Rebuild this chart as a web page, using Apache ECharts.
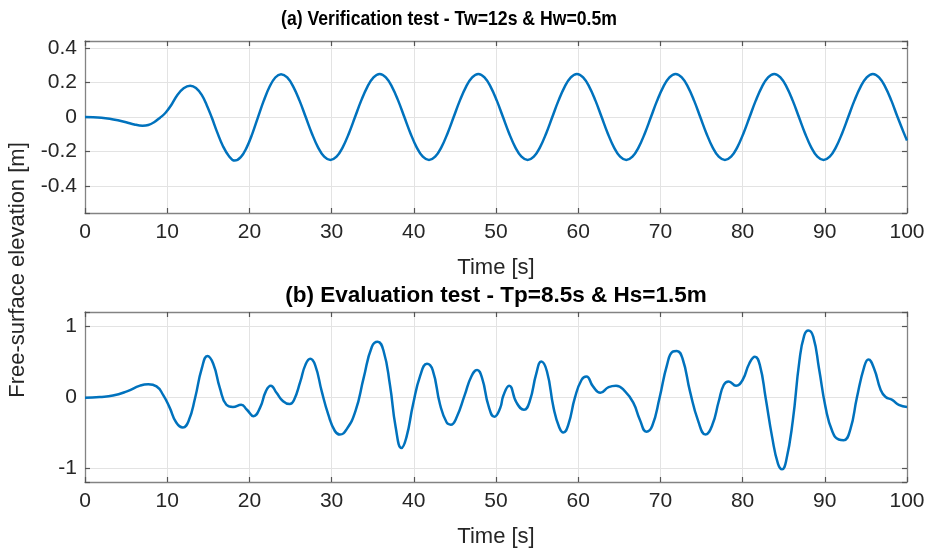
<!DOCTYPE html>
<html>
<head>
<meta charset="utf-8">
<script src="https://cdn.jsdelivr.net/npm/echarts@6/dist/echarts.min.js"></script>
<style>
html,body{margin:0;padding:0;background:#fff;}
#chart{width:928px;height:549px;}
</style>
</head>
<body>
<div id="chart"></div>
<script>
// ---- Data ----
const titleTop = '(a) Verification test - Tw=12s & Hw=0.5m';
const titleBottom = '(b) Evaluation test - Tp=8.5s & Hs=1.5m';
const yAxisTitle = 'Free-surface elevation [m]';
const xAxisTitle = 'Time [s]';

const xTicks = [0, 10, 20, 30, 40, 50, 60, 70, 80, 90, 100];
const yTicksTop = [-0.4, -0.2, 0, 0.2, 0.4];
const yTicksBottom = [-1, 0, 1];

// (a) regular wave: time [s]
const timeA = [0,1,2,3,4,5,6,7,7.7,8.4,9.1,9.8,10.5,11.2,12,12.8,13.5,14.2,14.8,15.4,16.1,16.8,17.5,18.2,
  18.95,19.65,20.35,21.05,21.75,22.45,23.15,
  23.85,24.6,25.35,26.1,26.85,27.6,28.35,29.1,29.85,30.6,31.35,32.1,32.85,33.6,34.35,35.1,
  35.85,36.6,37.35,38.1,38.85,39.6,40.35,41.1,41.85,42.6,43.35,44.1,44.85,45.6,46.35,47.1,
  47.85,48.6,49.35,50.1,50.85,51.6,52.35,53.1,53.85,54.6,55.35,56.1,56.85,57.6,58.35,59.1,
  59.85,60.6,61.35,62.1,62.85,63.6,64.35,65.1,65.85,66.6,67.35,68.1,68.85,69.6,70.35,71.1,
  71.85,72.6,73.35,74.1,74.85,75.6,76.35,77.1,77.85,78.6,79.35,80.1,80.85,81.6,82.35,83.1,
  83.85,84.6,85.35,86.1,86.85,87.6,88.35,89.1,89.85,90.6,91.35,92.1,92.85,93.6,94.35,95.1,
  95.85,96.6,97.35,98.1,98.85,99.6,100];
// (a) regular wave: elevation [m]
const elevA = [0,-0.001,-0.004,-0.01,-0.019,-0.03,-0.043,-0.05,-0.046,-0.03,-0.005,0.025,0.07,0.125,0.166,0.181,0.168,0.128,0.07,0,-0.09,-0.17,-0.225,-0.252,
  -0.232,-0.178,-0.097,0,0.095,0.175,0.229,
  0.248,0.229,0.175,0.095,0,-0.095,-0.175,-0.229,-0.248,-0.229,-0.175,-0.095,0,0.095,0.175,0.229,
  0.249,0.229,0.175,0.095,0,-0.095,-0.175,-0.229,-0.248,-0.229,-0.175,-0.095,0,0.095,0.175,0.229,
  0.249,0.229,0.175,0.095,0,-0.095,-0.175,-0.229,-0.248,-0.229,-0.175,-0.095,0,0.095,0.175,0.229,
  0.249,0.229,0.175,0.095,0,-0.095,-0.175,-0.229,-0.248,-0.229,-0.175,-0.095,0,0.095,0.175,0.229,
  0.249,0.229,0.175,0.095,0,-0.095,-0.175,-0.229,-0.248,-0.229,-0.175,-0.095,0,0.095,0.175,0.229,
  0.249,0.229,0.175,0.095,0,-0.095,-0.175,-0.229,-0.248,-0.229,-0.175,-0.095,0,0.095,0.175,0.229,
  0.249,0.229,0.175,0.095,0,-0.09,-0.135];

// (b) irregular wave: time [s]
const timeB = [0,1.8,3.4,5.1,6.7,7.7,8.7,9.5,10.3,11.1,11.9,12.6,13.4,14.2,14.9,15.6,16.4,17.2,18.0,19.0,
  19.7,20.5,21.3,22.0,22.6,23.3,24.1,24.9,25.4,26.2,26.8,27.4,28.0,28.8,29.6,30.4,31.0,31.8,32.9,33.9,
  34.9,35.6,36.3,37.1,37.8,38.5,39.1,39.9,40.8,41.6,42.3,43.2,44.0,44.5,45.2,46.2,47.0,47.7,48.3,49.1,
  49.8,50.5,50.9,51.6,52.5,53.4,54.1,54.9,55.5,56.2,57.0,57.7,58.2,58.8,59.6,60.4,61.0,61.8,62.7,63.7,
  64.6,65.7,66.7,67.5,68.3,69.0,69.9,70.8,71.5,72.0,72.7,73.6,74.6,75.5,76.3,77.1,77.7,78.3,79.2,80.0,
  80.8,81.5,82.1,82.8,83.6,84.3,84.8,85.3,86.1,86.9,87.5,88.0,88.6,89.3,90.1,90.9,91.7,92.3,93.1,93.9,
  94.8,95.3,96.0,96.8,97.4,98.2,99.0,100];
// (b) irregular wave: elevation [m]
const elevB = [-0.01,0.0,0.02,0.08,0.16,0.18,0.15,0.03,-0.15,-0.36,-0.43,-0.34,-0.01,0.40,0.58,0.47,0.13,-0.11,-0.14,-0.11,
  -0.18,-0.27,-0.15,0.08,0.16,0.06,-0.06,-0.10,-0.05,0.22,0.45,0.54,0.45,0.08,-0.25,-0.48,-0.53,-0.46,-0.20,0.27,
  0.71,0.78,0.66,0.17,-0.43,-0.72,-0.57,-0.11,0.31,0.47,0.38,-0.11,-0.36,-0.39,-0.29,0.03,0.29,0.38,0.27,-0.13,
  -0.28,-0.16,0.02,0.16,-0.08,-0.18,-0.06,0.33,0.50,0.36,-0.15,-0.43,-0.50,-0.39,-0.01,0.24,0.29,0.15,0.06,0.14,
  0.16,0.08,-0.08,-0.32,-0.49,-0.41,-0.01,0.45,0.64,0.65,0.54,0.08,-0.34,-0.53,-0.40,-0.06,0.17,0.22,0.16,0.24,
  0.47,0.57,0.45,-0.01,-0.57,-0.94,-1.02,-0.90,-0.34,0.50,0.87,0.94,0.85,0.40,-0.15,-0.48,-0.60,-0.61,-0.46,-0.01,
  0.43,0.53,0.40,0.10,0.0,-0.04,-0.11,-0.14];

// ---- Build chart ----
const FONT = '"Liberation Sans", Arial, Helvetica, sans-serif';
const AXIS_COLOR = '#838383';
const GRID_COLOR = '#e3e3e3';
const LABEL_COLOR = '#262626';
const LINE_COLOR = '#0072BD';
const FS = 21;

const grids = [
  {left: 85, top: 41, width: 822, height: 172},
  {left: 85, top: 312, width: 822, height: 172}
];

function pairs(ts, vs) { return ts.map((t, i) => [t, vs[i]]); }

function xAx(gridIndex, position, showLabel) {
  return {
    type: 'value', gridIndex, position,
    min: xTicks[0], max: xTicks[xTicks.length - 1], interval: xTicks[1] - xTicks[0],
    axisLine: {show: true, onZero: false, lineStyle: {color: AXIS_COLOR, width: 1.3}},
    axisTick: {show: true, inside: true, length: 5, lineStyle: {color: '#555', width: 1.2}},
    axisLabel: {show: showLabel, color: LABEL_COLOR, fontSize: FS, fontFamily: FONT, margin: 9},
    splitLine: {show: showLabel, lineStyle: {color: GRID_COLOR, width: 1}},
    name: showLabel ? xAxisTitle : '',
    nameLocation: 'middle', nameGap: 44,
    nameTextStyle: {color: LABEL_COLOR, fontSize: 22, fontFamily: FONT}
  };
}

function yAx(gridIndex, position, showLabel, ticks, mn, mx) {
  const step = ticks[1] - ticks[0];
  return {
    type: 'value', gridIndex, position,
    min: mn, max: mx, minInterval: step, maxInterval: step,
    axisLine: {show: true, onZero: false, lineStyle: {color: AXIS_COLOR, width: 1.3}},
    axisTick: {show: true, inside: true, length: 5, lineStyle: {color: '#555', width: 1.2}},
    axisLabel: {
      show: showLabel, color: LABEL_COLOR, fontSize: FS, fontFamily: FONT, margin: 8,
      formatter: function (v) {
        for (const t of ticks) { if (Math.abs(v - t) < 1e-6) return String(t); }
        return '';
      }
    },
    splitLine: {show: showLabel, lineStyle: {color: GRID_COLOR, width: 1}}
  };
}

const chart = echarts.init(document.getElementById('chart'), null, {renderer: 'canvas'});
chart.setOption({
  backgroundColor: '#ffffff',
  animation: false,
  grid: grids,
  xAxis: [xAx(0, 'bottom', true), xAx(0, 'top', false), xAx(1, 'bottom', true), xAx(1, 'top', false)],
  yAxis: [
    yAx(0, 'left', true, yTicksTop, -0.555, 0.44), yAx(0, 'right', false, yTicksTop, -0.555, 0.44),
    yAx(1, 'left', true, yTicksBottom, -1.2, 1.2), yAx(1, 'right', false, yTicksBottom, -1.2, 1.2)
  ],
  graphic: [
    {type: 'text', x: 449, y: 19, scaleX: 0.84,
     style: {text: titleTop, fontSize: 21, fontWeight: 'bold', fontFamily: FONT, fill: '#000', textAlign: 'center', textVerticalAlign: 'middle'}},
    {type: 'text', x: 496, y: 296,
     style: {text: titleBottom, fontSize: 22.5, fontWeight: 'bold', fontFamily: FONT, fill: '#000', textAlign: 'center', textVerticalAlign: 'middle'}},
    {type: 'text', x: 18, y: 270, rotation: Math.PI / 2,
     style: {text: yAxisTitle, fontSize: 22, fontFamily: FONT, fill: LABEL_COLOR, textAlign: 'center', textVerticalAlign: 'middle'}}
  ],
  series: [
    {type: 'line', xAxisIndex: 0, yAxisIndex: 0, data: pairs(timeA, elevA), smooth: 0.4, showSymbol: false,
     lineStyle: {color: LINE_COLOR, width: 2.5}, z: 5},
    {type: 'line', xAxisIndex: 2, yAxisIndex: 2, data: pairs(timeB, elevB), smooth: 0.5, showSymbol: false,
     lineStyle: {color: LINE_COLOR, width: 2.5}, z: 5}
  ]
});
</script>
</body>
</html>
